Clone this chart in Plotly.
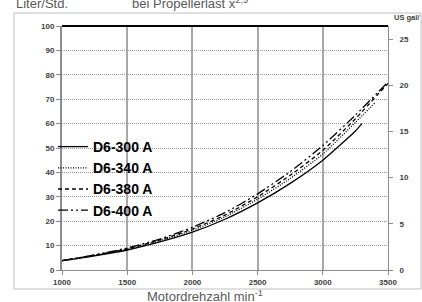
import plotly.graph_objects as go

rpm = [1000, 1250, 1500, 1750, 2000, 2250, 2500, 2750, 3000, 3250]
d6_300 = [3.8, 5.8, 8.2, 11.5, 15.5, 20.8, 27.5, 35.5, 45.0, 57.0]
rpm_300_end, d6_300_end = 3300, 60.0
d6_340 = [3.8, 6.0, 8.5, 12.0, 16.3, 21.8, 29.0, 37.5, 47.5, 60.5]
rpm_340_end, d6_340_end = 3400, 68.5
d6_380 = [3.8, 6.1, 8.7, 12.3, 16.8, 22.5, 30.0, 38.8, 49.0, 62.0]
rpm_380_end, d6_380_end = 3500, 76.5
d6_400 = [3.8, 6.2, 9.0, 12.7, 17.5, 23.5, 31.2, 40.3, 51.0, 63.5]
rpm_400_end, d6_400_end = 3500, 77.0

names = ["D6-300 A", "D6-340 A", "D6-380 A", "D6-400 A"]
dashes = ["solid", "1px,1.5px", "4px,3px", "10px,3px,2px,3px,2px,3px"]
series = [
    (rpm + [rpm_300_end], d6_300 + [d6_300_end]),
    (rpm + [rpm_340_end], d6_340 + [d6_340_end]),
    (rpm + [rpm_380_end], d6_380 + [d6_380_end]),
    (rpm + [rpm_400_end], d6_400 + [d6_400_end]),
]

W, H = 422, 302
L, R, T, B = 62, 34, 26, 32
pw, ph = W - L - R, H - T - B

def px(xp):
    return (xp - L) / pw

def py(yp):
    return (H - B - yp) / ph

fig = go.Figure()
for i, ((xs, ys), nm, ds) in enumerate(zip(series, names, dashes)):
    fig.add_trace(go.Scatter(
        x=xs, y=ys, mode="lines", name=nm, legendgroup=nm,
        line=dict(color="black", width=1.3, dash=ds, shape="spline", smoothing=0.6),
    ))
# invisible trace for right axis
fig.add_trace(go.Scatter(x=[1000], y=[0], yaxis="y2", mode="markers",
                         marker=dict(opacity=0), showlegend=False, hoverinfo="skip"))

tickfont = dict(family="Liberation Sans", size=8, color="#404040", weight="bold")
fig.update_layout(
    width=W, height=H,
    margin=dict(l=L, r=R, t=T, b=B),
    paper_bgcolor="white", plot_bgcolor="white",
    showlegend=True,
    legend=dict(x=px(53), y=py(131), xanchor="left", yanchor="top",
                bgcolor="rgba(0,0,0,0)", tracegroupgap=0,
                font=dict(family="Liberation Sans", size=14, color="black", weight="bold")),
    xaxis=dict(range=[1000, 3500], dtick=500, tick0=1000, showgrid=True,
               gridcolor="#a8a8a8", gridwidth=1.5, showline=True, linecolor="#8c8c8c",
               linewidth=1, ticks="outside", ticklen=4, tickcolor="#8c8c8c",
               tickfont=tickfont, zeroline=False, automargin=False),
    yaxis=dict(range=[0, 100], dtick=10, showgrid=True, gridcolor="#9a9a9a",
               griddash="1px,1px", gridwidth=1, showline=True, linecolor="#8c8c8c",
               linewidth=2, ticks="outside", ticklen=4, tickcolor="#8c8c8c",
               tickfont=tickfont, zeroline=False, automargin=False),
    yaxis2=dict(range=[0, 100 / 3.785], dtick=5, overlaying="y", side="right",
                showgrid=False, showline=True, linecolor="#8c8c8c", linewidth=1,
                ticks="outside", ticklen=4, tickcolor="#8c8c8c", tickfont=tickfont,
                ticklabelstandoff=5, zeroline=False, automargin=False),
)

# outer chart border
fig.add_shape(type="rect", xref="paper", yref="paper",
              x0=px(14), x1=px(421), y0=py(289), y1=py(13),
              line=dict(color="#bfbfbf", width=1), layer="below")
# top line of plot area
fig.add_shape(type="line", xref="paper", yref="paper", x0=0, x1=1, y0=1, y1=1,
              line=dict(color="black", width=2))

fig.add_annotation(text="Liter/Std.", xref="paper", yref="paper", x=px(14), y=py(3),
                   xanchor="left", yanchor="middle", showarrow=False,
                   font=dict(family="Liberation Sans", size=13, color="#595959"))
fig.add_annotation(text="bei Propellerlast x<sup>2,5</sup>", xref="paper", yref="paper",
                   x=px(130), y=py(3), xanchor="left", yanchor="middle", showarrow=False,
                   font=dict(family="Liberation Sans", size=13, color="#595959"))
fig.add_annotation(text="US gal/", xref="paper", yref="paper", x=px(392), y=py(18),
                   xanchor="left", yanchor="middle", showarrow=False,
                   font=dict(family="Liberation Sans", size=7.5, color="#404040", weight="bold"))
fig.add_annotation(text="Motordrehzahl min<sup>-1</sup>", xref="paper", yref="paper",
                   x=px(205), y=py(295.5), xanchor="center", yanchor="middle", showarrow=False,
                   font=dict(family="Liberation Sans", size=13, color="#595959"))

fig.write_html("out.html", config={"displayModeBar": False},
               post_script="document.body.style.margin='0';document.body.style.overflow='hidden';")
